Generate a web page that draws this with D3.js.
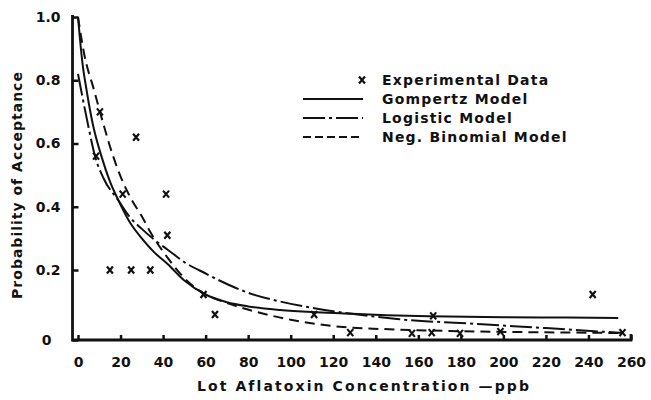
<!DOCTYPE html>
<html>
<head>
<meta charset="utf-8">
<script src="https://cdn.jsdelivr.net/npm/d3@7"></script>
<style>
  body { margin: 0; background: #fff; }
  text { font-family: "DejaVu Sans", sans-serif; font-weight: bold; fill: #111; }
</style>
</head>
<body>
<div id="chart"></div>
<script>
const obsX = [8.5, 10.3, 21, 15, 25, 34, 27.3, 41.4, 42, 59, 64.4, 111, 128, 157, 166.3, 167, 179.6, 198.6, 242, 256];
const obsY = [0.56, 0.70, 0.44, 0.20, 0.20, 0.20, 0.62, 0.44, 0.31, 0.13, 0.073, 0.073, 0.021, 0.019, 0.021, 0.069, 0.019, 0.024, 0.13, 0.021];

// Fitted model curves, sampled from the figure
const gompertzX = [0, 2, 4, 7, 11, 15, 19, 24, 30, 36, 42, 50, 60, 70, 80, 95, 110, 125, 145, 165, 200, 230, 254];
const gompertzY = [1.0, 0.86, 0.77, 0.66, 0.56, 0.48, 0.42, 0.355, 0.30, 0.255, 0.22, 0.17, 0.13, 0.108, 0.096, 0.086, 0.08, 0.076, 0.071, 0.068, 0.065, 0.064, 0.063];

const logisticX = [0, 2, 5, 8, 12, 19, 24, 30, 36, 42, 50, 60, 70, 80, 95, 110, 125, 150, 190, 220, 256];
const logisticY = [0.82, 0.75, 0.65, 0.56, 0.49, 0.42, 0.37, 0.33, 0.295, 0.265, 0.225, 0.19, 0.16, 0.135, 0.11, 0.092, 0.078, 0.06, 0.045, 0.034, 0.02];

const negbinX = [0, 3, 7.5, 12, 16.5, 21, 25.4, 30, 34, 42, 52, 60, 68, 84, 100, 123, 150, 180, 220, 256];
const negbinY = [1.0, 0.88, 0.77, 0.66, 0.56, 0.48, 0.42, 0.37, 0.32, 0.24, 0.165, 0.13, 0.11, 0.08, 0.058, 0.038, 0.03, 0.025, 0.022, 0.02];

const xTicks = d3.range(0, 261, 20);
const yTicks = [0, 0.2, 0.4, 0.6, 0.8, 1.0];

const legendLabels = ["Experimental Data", "Gompertz Model", "Logistic Model", "Neg. Binomial Model"];

const W = 651, H = 400;
const svg = d3.select("#chart").append("svg")
    .attr("width", W).attr("height", H);
svg.append("rect").attr("width", W).attr("height", H).attr("fill", "#fff");

const x = d3.scaleLinear().domain([0, 260]).range([78, 631]);
// the hand-drawn axis has a slightly longer first interval
const y = d3.scaleLinear().domain([0, 0.2, 1]).range([340, 270, 17]);

const axisX = 72.5;

// x axis
const gx = svg.append("g").attr("transform", `translate(0,${y(0)})`)
    .call(d3.axisBottom(x).tickValues(xTicks).tickSize(-5).tickPadding(17));
gx.select(".domain").remove();
gx.selectAll(".tick line").attr("stroke", "#111").attr("stroke-width", 2.5);
gx.selectAll(".tick text").attr("font-size", 14).attr("fill", "#111")
    .attr("font-family", "DejaVu Sans").attr("font-weight", "bold");
svg.append("path")
    .attr("d", `M${axisX},${y(0)}H${x(260)}V${y(0) - 6}`)
    .attr("fill", "none").attr("stroke", "#111").attr("stroke-width", 2.8);

// y axis
const gy = svg.append("g").attr("transform", `translate(${axisX},0)`)
    .call(d3.axisLeft(y).tickValues(yTicks).tickSize(-6).tickPadding(12)
        .tickFormat(d => d === 0 ? "0" : d3.format(".1f")(d)));
gy.select(".domain").remove();
gy.selectAll(".tick line").attr("stroke", "#111").attr("stroke-width", 2.5);
gy.selectAll(".tick text").attr("font-size", 14).attr("fill", "#111")
    .attr("font-family", "DejaVu Sans").attr("font-weight", "bold");
gy.selectAll(".tick text").filter(d => d === 0).attr("dx", -9);
svg.append("line")
    .attr("x1", axisX).attr("x2", axisX).attr("y1", 15).attr("y2", y(0) + 1.4)
    .attr("stroke", "#111").attr("stroke-width", 2.8);

// model curves
const line = d3.line().x(d => x(d[0])).y(d => y(d[1])).curve(d3.curveMonotoneX);
const models = [
    { xs: gompertzX, ys: gompertzY, dash: null },
    { xs: logisticX, ys: logisticY, dash: "22,4,3,4" },
    { xs: negbinX, ys: negbinY, dash: "10,6" }
];
models.forEach(m => {
    svg.append("path")
        .datum(d3.zip(m.xs, m.ys))
        .attr("d", line)
        .attr("fill", "none")
        .attr("stroke", "#111")
        .attr("stroke-width", 2)
        .attr("stroke-dasharray", m.dash);
});

// markers
function cross(sel, cx, cy) {
    sel.append("path")
        .attr("d", `M${cx - 3},${cy - 3.5}L${cx + 3},${cy + 3.5}M${cx + 3},${cy - 3.5}L${cx - 3},${cy + 3.5}`)
        .attr("stroke", "#111").attr("stroke-width", 2.2).attr("fill", "none");
}
const gm = svg.append("g");
d3.zip(obsX, obsY).forEach(d => cross(gm, x(d[0]), y(d[1])));

// legend
const lg = svg.append("g");
const rowY = [80, 99, 118, 137];
cross(lg, 362, rowY[0]);
const legendDash = [null, null, "22,4,3,4", "8,4"];
[1, 2, 3].forEach(i => {
    lg.append("line")
        .attr("x1", 303).attr("x2", 363).attr("y1", rowY[i]).attr("y2", rowY[i])
        .attr("stroke", "#111").attr("stroke-width", 2)
        .attr("stroke-dasharray", legendDash[i]);
});
legendLabels.forEach((t, i) => {
    lg.append("text")
        .attr("x", 382).attr("y", rowY[i] + 5)
        .attr("font-size", 14).attr("letter-spacing", 1.2)
        .text(t);
});

// axis titles
svg.append("text")
    .attr("x", 364).attr("y", 391)
    .attr("text-anchor", "middle").attr("font-size", 14).attr("letter-spacing", 2.1)
    .text("Lot Aflatoxin Concentration \u2014ppb");
svg.append("text")
    .attr("transform", "translate(22,185) rotate(-90)")
    .attr("text-anchor", "middle").attr("font-size", 14).attr("letter-spacing", 1.0)
    .text("Probability of Acceptance");
</script>
</body>
</html>
